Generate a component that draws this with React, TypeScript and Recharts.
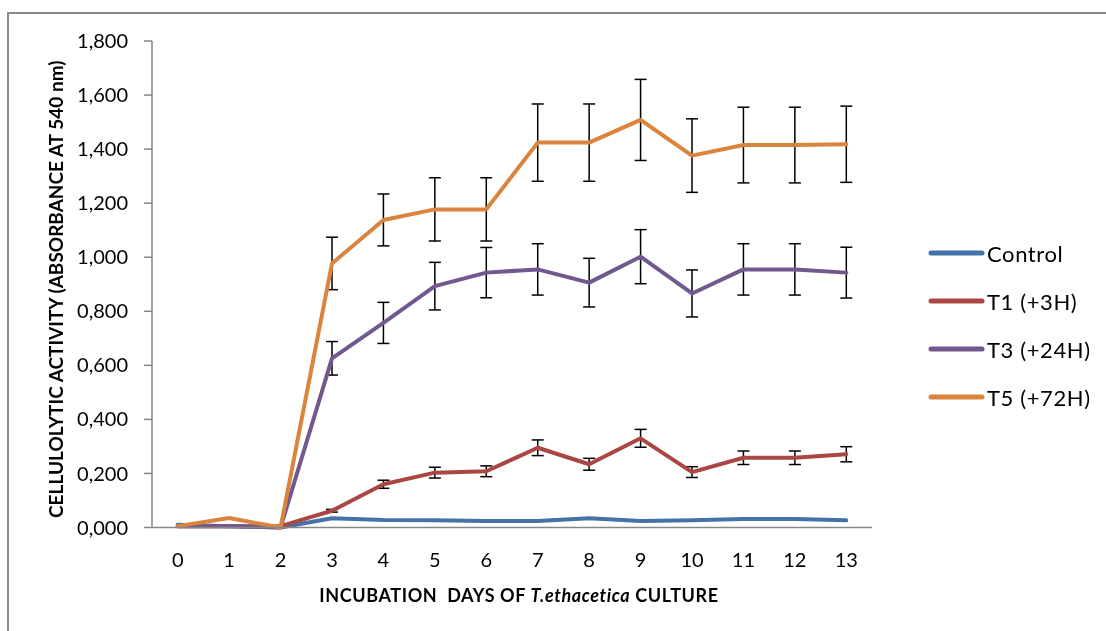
import { LineChart, Line, XAxis, YAxis, ErrorBar, Label } from 'recharts';

// incubation days
const days = [0, 1, 2, 3, 4, 5, 6, 7, 8, 9, 10, 11, 12, 13];

// absorbance values
const control = [0.01, 0.005, 0.0, 0.034, 0.028, 0.027, 0.024, 0.024, 0.034, 0.024, 0.027, 0.031, 0.031, 0.027];
const t1 = [0.005, 0.005, 0.005, 0.062, 0.16, 0.203, 0.208, 0.295, 0.234, 0.33, 0.205, 0.258, 0.258, 0.271];
const t1Err = [null, null, null, 0.005, 0.015, 0.02, 0.02, 0.029, 0.022, 0.033, 0.02, 0.025, 0.025, 0.028];
const t3 = [0.005, 0.005, 0.0, 0.626, 0.757, 0.893, 0.943, 0.955, 0.906, 1.002, 0.866, 0.955, 0.955, 0.943];
const t3Err = [null, null, null, 0.062, 0.076, 0.088, 0.093, 0.095, 0.09, 0.1, 0.087, 0.095, 0.095, 0.094];
const t5 = [0.005, 0.035, 0.0, 0.977, 1.138, 1.177, 1.177, 1.424, 1.424, 1.508, 1.376, 1.415, 1.415, 1.418];
const t5Err = [null, null, null, 0.097, 0.096, 0.117, 0.117, 0.143, 0.143, 0.15, 0.136, 0.14, 0.14, 0.141];

const yTicks = [0, 0.2, 0.4, 0.6, 0.8, 1.0, 1.2, 1.4, 1.6, 1.8];

const SERIES = [
  { key: 'control', name: 'Control', color: '#4572A7' },
  { key: 't1', name: 'T1 (+3H)', color: '#AA4643' },
  { key: 't3', name: 'T3 (+24H)', color: '#71588F' },
  { key: 't5', name: 'T5 (+72H)', color: '#DB843D' },
];

const data = days.map((d, i) => ({
  day: d,
  control: control[i],
  t1: t1[i],
  t1Err: t1Err[i] ?? undefined,
  t3: t3[i],
  t3Err: t3Err[i] ?? undefined,
  t5: t5[i],
  t5Err: t5Err[i] ?? undefined,
}));

const FONT = 'Lato, "Open Sans", sans-serif';
const AXIS_COLOR = '#868686';

// "0,200" style labels (comma decimal, 3 digits)
const fmtY = (v: number) => v.toFixed(3).replace('.', ',');

function LegendBox() {
  return (
    <div
      style={{
        position: 'absolute',
        left: 920,
        top: 221,
        fontFamily: FONT,
        fontSize: 22,
        letterSpacing: 0.6,
        color: '#000',
      }}
    >
      {SERIES.map((s) => (
        <div key={s.key} style={{ display: 'flex', alignItems: 'center', height: 48 }}>
          <svg width={59} height={10} style={{ display: 'block' }}>
            <line x1={3} y1={5} x2={54} y2={5} stroke={s.color} strokeWidth={5} strokeLinecap="round" />
          </svg>
          <span style={{ whiteSpace: 'nowrap' }}>{s.name}</span>
        </div>
      ))}
    </div>
  );
}

export default function App() {
  return (
    <div style={{ position: 'relative', width: 1098, height: 623 }}>
      <style>{'body{overflow:hidden}'}</style>
      <div
        style={{
          position: 'fixed',
          left: 7,
          top: 12,
          right: -20,
          bottom: -20,
          borderLeft: '2px solid #8a8a8a',
          borderTop: '2px solid #8a8a8a',
        }}
      />
      <div style={{ position: 'absolute', left: 0, top: 0 }}>
        <LineChart width={1098} height={623} data={data} margin={{ top: 33, right: 234, left: 0, bottom: 0 }}>
          <XAxis
            dataKey="day"
            height={103.5}
            padding={{ left: 25.7, right: 25.7 }}
            tickLine={false}
            tickSize={0}
            tickMargin={25}
            stroke={AXIS_COLOR}
            strokeWidth={1.5}
            tick={{ fill: '#000', fontSize: 20, fontFamily: FONT }}
          >
            <Label
              content={({ viewBox }: any) => (
                <text
                  x={viewBox.x + viewBox.width / 2 + 7}
                  y={viewBox.y + 74}
                  textAnchor="middle"
                  fontFamily={FONT}
                  fontSize={18}
                  fontWeight="bold"
                  letterSpacing={0.6}
                  fill="#000"
                  style={{ whiteSpace: 'pre' }}
                >
                  <tspan>{'INCUBATION  DAYS OF '}</tspan>
                  <tspan fontStyle="italic">T.ethacetica</tspan>
                  <tspan>{' CULTURE'}</tspan>
                </text>
              )}
            />
          </XAxis>
          <YAxis
            width={144}
            domain={[0, 1.8]}
            ticks={yTicks}
            tickFormatter={fmtY}
            tickSize={8}
            tickMargin={16}
            stroke={AXIS_COLOR}
            strokeWidth={1.5}
            tick={{ fill: '#000', fontSize: 20, fontFamily: FONT }}
          >
            <Label
              content={({ viewBox }: any) => {
                const cx = 47;
                const cy = viewBox.y + viewBox.height / 2 + 5;
                return (
                  <text
                    x={cx}
                    y={cy}
                    transform={`rotate(-90 ${cx} ${cy})`}
                    textAnchor="middle"
                    dominantBaseline="central"
                    fontFamily={FONT}
                    fontSize={19}
                    fontWeight="bold"
                    fill="#000"
                  >
                    CELLULOLYTIC ACTIVITY (ABSORBANCE AT 540 nm)
                  </text>
                );
              }}
            />
          </YAxis>
          {SERIES.map((s) => (
            <Line
              key={s.key}
              type="linear"
              dataKey={s.key}
              name={s.name}
              stroke={s.color}
              strokeWidth={4}
              strokeLinecap="round"
              strokeLinejoin="round"
              dot={false}
              isAnimationActive={false}
            >
              {s.key !== 'control' && (
                <ErrorBar dataKey={`${s.key}Err`} direction="y" width={6} stroke="#000" strokeWidth={1.5} />
              )}
            </Line>
          ))}
        </LineChart>
      </div>
      <LegendBox />
    </div>
  );
}
